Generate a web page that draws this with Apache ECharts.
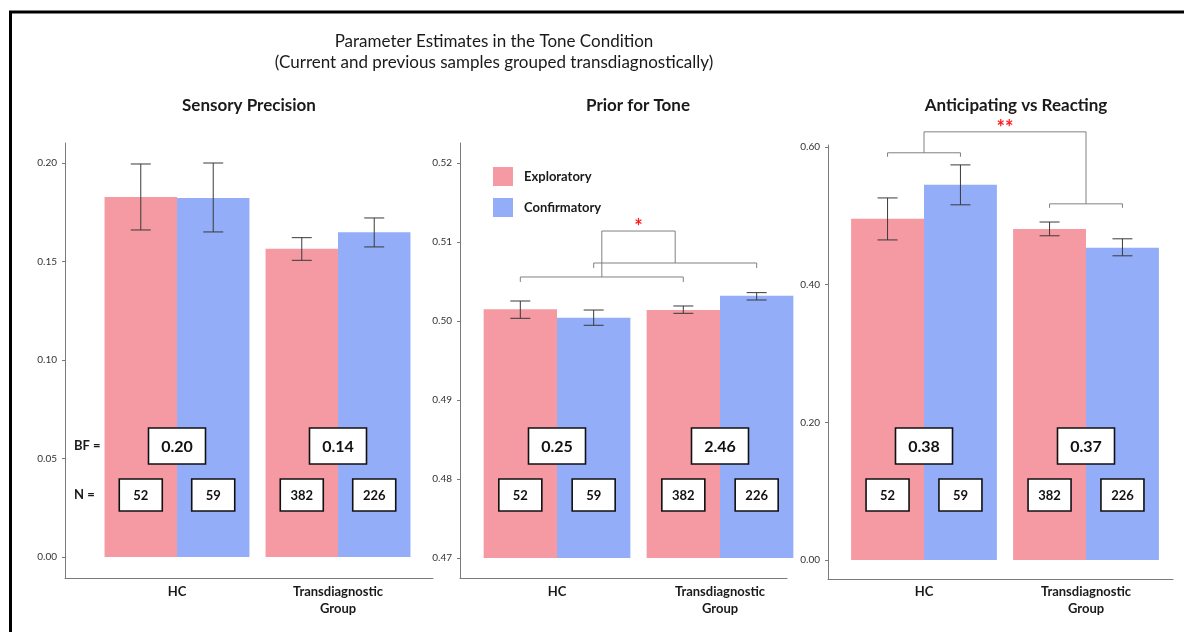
<!DOCTYPE html>
<html>
<head>
<meta charset="utf-8">
<script src="https://cdn.jsdelivr.net/npm/echarts@6/dist/echarts.min.js"></script>
<style>
html,body{margin:0;padding:0;background:#fff;}
#chart{width:1184px;height:632px;}
</style>
</head>
<body>
<div id="chart"></div>
<script>
// ---------------- DATA ----------------
const mainTitle = 'Parameter Estimates in the Tone Condition\n(Current and previous samples grouped transdiagnostically)';
const panelTitles = ['Sensory Precision', 'Prior for Tone', 'Anticipating vs Reacting'];
const categories = ['HC', 'Transdiagnostic\nGroup'];
const seriesNames = ['Exploratory', 'Confirmatory'];

const sensoryExpl = [0.1827, 0.1565];
const sensoryExplErr = [[0.1660, 0.1995], [0.1506, 0.1621]];
const sensoryConf = [0.1822, 0.1648];
const sensoryConfErr = [[0.1650, 0.2000], [0.1574, 0.1721]];

const priorExpl = [0.50148, 0.50139];
const priorExplErr = [[0.50034, 0.50253], [0.50097, 0.50190]];
const priorConf = [0.50042, 0.50320];
const priorConfErr = [[0.49946, 0.50139], [0.50266, 0.50359]];

const anticExpl = [0.4956, 0.4810];
const anticExplErr = [[0.4650, 0.5260], [0.4710, 0.4910]];
const anticConf = [0.5450, 0.4535];
const anticConfErr = [[0.5160, 0.5740], [0.4419, 0.4666]];

const bfValues = [['0.20', '0.14'], ['0.25', '2.46'], ['0.38', '0.37']];
const nValues = [[52, 59], [382, 226]];

const yTicks = [
  [0, 0.05, 0.10, 0.15, 0.20],
  [0.47, 0.48, 0.49, 0.50, 0.51, 0.52],
  [0, 0.20, 0.40, 0.60]
];
const yRanges = [[0, 0.20], [0.47, 0.52], [0, 0.60]];

// significance brackets: pairs of [category, side(-1 expl / +1 conf)], bracket level, leg end, connector top, mark level
const sigBrackets = [
  null,
  { pairs: [[[0, -1], [1, -1], 0.50557, 0.50494], [[0, 1], [1, 1], 0.50734, 0.50671]], top: 0.51139, markY: 0.51230, mark: '*' },
  { pairs: [[[0, -1], [0, 1], 0.5916, 0.5858], [[1, -1], [1, 1], 0.5174, 0.5116]], top: 0.6220, markY: 0.6330, mark: '**' }
];

// ---------------- LAYOUT ----------------
const FONT = 'Lato, "Open Sans", sans-serif';
const layout = [
  { fx0: 65, fx1: 433, fTop: 143, fBot: 578, dx0: 96.5, dw: 322, dTop: 163, dBot: 557, titleX: 249 },
  { fx0: 460, fx1: 787, fTop: 143, fBot: 578, dx0: 475.5, dw: 326, dTop: 163, dBot: 558, titleX: 638 },
  { fx0: 828, fx1: 1173, fTop: 145, fBot: 579, dx0: 843, dw: 324, dTop: 147, dBot: 560, titleX: 1016 }
];
const labelTopY = 583;
const bfBoxY = 446, nBoxY = 495;
const barFrac = 0.9; // fraction of band used by both bars
const colors = ['#F59AA3', '#93ADF9'];

const panelData = [
  [sensoryExpl, sensoryConf, sensoryExplErr, sensoryConfErr],
  [priorExpl, priorConf, priorExplErr, priorConfErr],
  [anticExpl, anticConf, anticExplErr, anticConfErr]
];

const chart = echarts.init(document.getElementById('chart'));

const grid = [], xAxis = [], yAxis = [], series = [];
const titles = [{
  text: mainTitle, left: 494, top: 31, textAlign: 'center', padding: 0,
  textStyle: { fontFamily: FONT, fontSize: 17, fontWeight: 'normal', color: '#1a1a1a', lineHeight: 21 }
}];

function barCenter(api, cat, side, yv) {
  const p = api.coord([cat, yv]);
  const band = api.size([1, 0])[0];
  const bw = band * barFrac / 2;
  return [p[0] + side * bw / 2, p[1]];
}
function seg(x1, y1, x2, y2, color) {
  return { type: 'line', shape: { x1, y1, x2, y2 }, style: { stroke: color, lineWidth: 1 } };
}

layout.forEach((L, p) => {
  const [ymin, ymax] = yRanges[p];
  const pxPerUnit = (L.dBot - L.dTop) / (ymax - ymin);
  const fMin = ymin - (L.fBot - L.dBot) / pxPerUnit;
  const fMax = ymax + (L.dTop - L.fTop) / pxPerUnit;
  const fg = 2 * p, dg = 2 * p + 1;

  titles.push({
    text: panelTitles[p], left: L.titleX, top: 97, textAlign: 'center', padding: 0,
    textStyle: { fontFamily: FONT, fontSize: 17, fontWeight: 'bold', color: '#1a1a1a' }
  });

  // frame grid (axes)
  grid.push({ left: L.fx0, width: L.fx1 - L.fx0, top: L.fTop, height: L.fBot - L.fTop });
  xAxis.push({
    type: 'value', gridIndex: fg, min: 0, max: 1,
    axisLine: { show: true, onZero: false, lineStyle: { color: '#7a7a7a', width: 1 } },
    axisTick: { show: false }, axisLabel: { show: false }, splitLine: { show: false }
  });
  yAxis.push({
    type: 'value', gridIndex: fg, min: fMin, max: fMax,
    axisLine: { show: true, onZero: false, lineStyle: { color: '#7a7a7a', width: 1 } },
    axisTick: { show: true, length: 3, customValues: yTicks[p], lineStyle: { color: '#7a7a7a' } },
    axisLabel: {
      show: true, customValues: yTicks[p], margin: 8,
      formatter: v => v.toFixed(2),
      fontFamily: FONT, fontSize: 10, color: '#333'
    },
    splitLine: { show: false }
  });

  // data grid
  grid.push({ left: L.dx0, width: L.dw, top: L.dTop, height: L.dBot - L.dTop });
  xAxis.push({
    type: 'category', gridIndex: dg, data: categories,
    axisLine: { show: false }, axisTick: { show: false },
    axisLabel: {
      show: true, margin: labelTopY - L.dBot, verticalAlign: 'top',
      fontFamily: FONT, fontSize: 13, fontWeight: 'bold', color: '#1a1a1a', lineHeight: 17
    },
    splitLine: { show: false }
  });
  yAxis.push({ type: 'value', gridIndex: dg, min: ymin, max: ymax, show: false, splitLine: { show: false } });

  const [ex, cf, exErr, cfErr] = panelData[p];
  [ex, cf].forEach((vals, s) => {
    series.push({
      type: 'bar', name: seriesNames[s], xAxisIndex: dg, yAxisIndex: dg,
      data: vals, barGap: '0%', barCategoryGap: ((1 - barFrac) * 100) + '%',
      itemStyle: { color: colors[s] }, z: 2, silent: true
    });
  });
  [exErr, cfErr].forEach((errs, s) => {
    const side = s === 0 ? -1 : 1;
    series.push({
      type: 'custom', name: 'err' + p + s, xAxisIndex: dg, yAxisIndex: dg, z: 3, clip: false,
      data: errs.map((e, i) => [i, e[0], e[1]]),
      encode: { x: 0, y: [1, 2] },
      renderItem: (params, api) => {
        const i = api.value(0);
        const lo = barCenter(api, i, side, api.value(1));
        const hi = barCenter(api, i, side, api.value(2));
        const x = lo[0], c = 10, col = '#3a3a3a';
        return { type: 'group', children: [
          seg(x, lo[1], x, hi[1], col), seg(x - c, lo[1], x + c, lo[1], col), seg(x - c, hi[1], x + c, hi[1], col)
        ] };
      }
    });
  });

  // BF and N boxes
  series.push({
    type: 'custom', name: 'boxes' + p, xAxisIndex: dg, yAxisIndex: dg, z: 4, clip: false,
    data: categories.map((c, i) => [i, ymin]),
    encode: { x: 0, y: 1 },
    renderItem: (params, api) => {
      const i = api.value(0);
      const cx = api.coord([i, ymin])[0];
      const kids = [];
      const box = (x, y, w, h, text, fs) => {
        kids.push({ type: 'rect', shape: { x: x - w / 2, y: y - h / 2, width: w, height: h },
          style: { fill: '#fff', stroke: '#111', lineWidth: 1.6 } });
        kids.push({ type: 'text', style: { text: String(text), x: x, y: y + 1, textAlign: 'center', textVerticalAlign: 'middle',
          font: 'bold ' + fs + 'px ' + FONT, fill: '#111' } });
      };
      box(cx, bfBoxY, 57, 36, bfValues[p][i], 16);
      [-1, 1].forEach((side, s) => {
        const bc = barCenter(api, i, side, ymin)[0];
        box(bc, nBoxY, 43, 32, nValues[i][s], 13);
      });
      return { type: 'group', children: kids };
    }
  });

  // significance brackets
  const sb = sigBrackets[p];
  if (sb) {
    series.push({
      type: 'custom', name: 'sig' + p, xAxisIndex: dg, yAxisIndex: dg, z: 5, clip: false,
      data: [[0, sb.top]], encode: { x: 0, y: 1 },
      renderItem: (params, api) => {
        const col = '#808080';
        const kids = [];
        const mids = [];
        sb.pairs.forEach(pr => {
          const a = barCenter(api, pr[0][0], pr[0][1], pr[2]);
          const b = barCenter(api, pr[1][0], pr[1][1], pr[2]);
          const legY = api.coord([0, pr[3]])[1];
          kids.push({ type: 'polyline', shape: { points: [[a[0], legY], [a[0], a[1]], [b[0], b[1]], [b[0], legY]] },
            style: { stroke: col, lineWidth: 1, fill: null } });
          mids.push([(a[0] + b[0]) / 2, a[1]]);
        });
        const topY = api.coord([0, sb.top])[1];
        kids.push({ type: 'polyline', shape: { points: [[mids[0][0], mids[0][1]], [mids[0][0], topY], [mids[1][0], topY], [mids[1][0], mids[1][1]]] },
          style: { stroke: col, lineWidth: 1, fill: null } });
        const my = api.coord([0, sb.markY])[1];
        kids.push({ type: 'text', style: { text: sb.mark, x: (mids[0][0] + mids[1][0]) / 2, y: my + 4,
          textAlign: 'center', textVerticalAlign: 'middle', font: 'bold 20px ' + FONT, fill: '#ff1a1a' } });
        return { type: 'group', children: kids };
      }
    });
  }
});

const option = {
  backgroundColor: '#fff',
  animation: false,
  title: titles,
  legend: {
    data: seriesNames, orient: 'vertical', left: 493, top: 167, padding: 0,
    itemWidth: 20, itemHeight: 19, itemGap: 12, icon: 'rect',
    textStyle: { fontFamily: FONT, fontSize: 13, fontWeight: 'bold', color: '#1a1a1a', padding: [5, 0, 0, 6] },
    selectedMode: false
  },
  grid, xAxis, yAxis, series,
  graphic: [
    { type: 'rect', shape: { x: 10.5, y: 12, width: 1300, height: 800 }, style: { fill: 'none', stroke: '#000', lineWidth: 3 }, silent: true },
    { type: 'text', left: 74, top: 439, style: { text: 'BF =', font: 'bold 13px ' + FONT, fill: '#1a1a1a' } },
    { type: 'text', left: 74, top: 488, style: { text: 'N =', font: 'bold 13px ' + FONT, fill: '#1a1a1a' } }
  ]
};
chart.setOption(option);
</script>
</body>
</html>
